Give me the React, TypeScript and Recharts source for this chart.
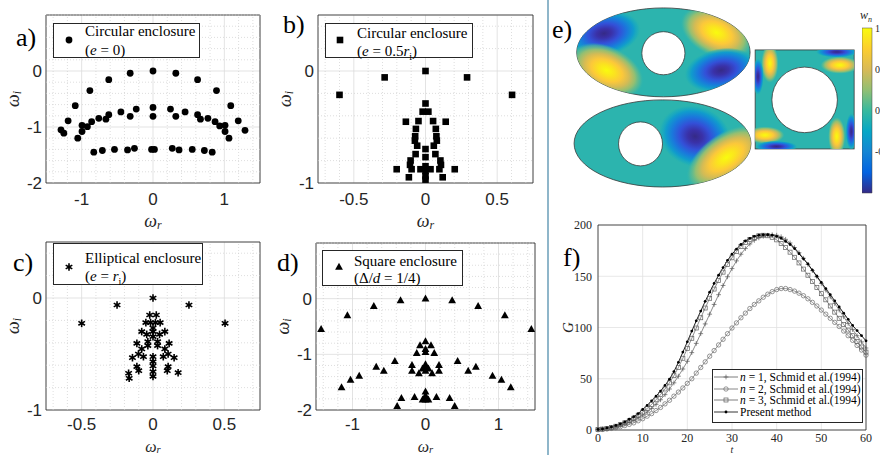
import React from "react";
import {
  ScatterChart,
  Scatter,
  LineChart,
  Line,
  BarChart,
  Bar,
  XAxis,
  YAxis,
  CartesianGrid,
  ReferenceLine,
  ReferenceArea,
  Label,
} from "recharts";

const INK = "#262626";
const SANS = "'Liberation Sans', Arial, sans-serif";
const SERIF = "'Liberation Serif', 'Times New Roman', serif";

// a) circular enclosure, e = 0  -> [omega_r, omega_i]
const circularE0 = [
  [0, 0], [-0.32, -0.04], [0.32, -0.04], [-0.62, -0.155], [0.625, -0.155],
  [-0.885, -0.35], [0.89, -0.35], [-1.09, -0.62], [1.09, -0.62], [-1.19, -0.89],
  [1.195, -0.89], [-1.29, -1.05], [-1.25, -1.11], [1.29, -1.06],
  [0, -0.65], [0, -0.81], [-0.235, -0.68], [0.245, -0.68], [-0.32, -0.81], [0.32, -0.81],
  [-0.45, -0.73], [0.45, -0.73], [-0.62, -0.78], [0.625, -0.78], [-0.66, -0.86], [0.665, -0.86],
  [-0.76, -0.845], [0.77, -0.845], [-0.86, -0.905], [0.87, -0.905], [-0.995, -0.97], [-0.92, -0.995],
  [0.935, -0.98], [1.01, -0.97], [-0.995, -1.08], [1.01, -1.08], [-1.055, -1.2], [1.065, -1.2],
  [-0.83, -1.45], [-0.71, -1.42], [-0.54, -1.4], [-0.357, -1.41], [-0.26, -1.38], [-0.02, -1.4],
  [0.02, -1.4], [0.27, -1.38], [0.365, -1.41], [0.55, -1.4], [0.72, -1.42], [0.83, -1.45],
];

// b) circular enclosure, e = 0.5 r_i
const circularE05 = [
  [0, 0], [-0.285, -0.057], [0.29, -0.057], [-0.6, -0.213], [0.604, -0.213],
  [0, -0.29], [-0.02, -0.363], [0.02, -0.363], [-0.137, -0.453], [0.141, -0.453],
  [-0.049, -0.447], [0.053, -0.447], [-0.067, -0.517], [0.072, -0.517], [-0.072, -0.583],
  [0.076, -0.583], [-0.074, -0.622], [0.079, -0.622], [-0.058, -0.667], [0.058, -0.667],
  [0, -0.697], [-0.069, -0.742], [0.069, -0.742], [0, -0.769], [-0.104, -0.799], [0.104, -0.799],
  [-0.108, -0.838], [0.108, -0.838], [0, -0.85], [-0.201, -0.877], [0.204, -0.877],
  [-0.097, -0.877], [0.097, -0.877], [-0.035, -0.877], [0.035, -0.877], [0, -0.892],
  [-0.116, -0.949], [0.12, -0.949], [0, -0.94], [0, -0.97],
];

// c) elliptical enclosure, e = r_i
const ellipticalE = [
  [0, 0], [-0.252, -0.0625], [0.252, -0.0625], [-0.5, -0.226], [0.505, -0.226],
  [-0.023, -0.152], [0.023, -0.152], [-0.05, -0.22], [-0.017, -0.22], [0.017, -0.22], [0.05, -0.22],
  [-0.079, -0.3], [0.083, -0.3], [-0.044, -0.325], [0.046, -0.325], [0, -0.268], [0, -0.3], [0, -0.345],
  [-0.113, -0.405], [0.113, -0.405], [-0.036, -0.39], [-0.036, -0.425], [0.032, -0.39], [0.032, -0.425],
  [-0.079, -0.455], [0.083, -0.455], [-0.102, -0.5], [-0.067, -0.524], [0.106, -0.5], [0.072, -0.524],
  [-0.144, -0.533], [0.148, -0.533], [0, -0.524], [0, -0.568], [0, -0.607], [0, -0.658], [0, -0.7],
  [-0.113, -0.613], [-0.1, -0.649], [0.106, -0.613], [0.1, -0.649],
  [-0.171, -0.672], [-0.167, -0.717], [0.176, -0.667],
];

// d) square enclosure, Delta/d = 1/4
const squareEncl = [
  [0, 0], [-0.342, -0.03], [0.365, -0.03], [-0.708, -0.137], [0.721, -0.137],
  [-1.07, -0.3], [1.087, -0.3], [-1.43, -0.55], [1.45, -0.55],
  [0, -0.77], [-0.075, -0.84], [0.075, -0.84], [0, -0.91], [0, -0.96], [-0.12, -0.98], [0.12, -0.98],
  [-0.42, -1.125], [0.44, -1.125], [-0.675, -1.226], [0.69, -1.226], [-0.571, -1.298], [0.585, -1.298],
  [-0.185, -1.196], [0.185, -1.196], [-0.185, -1.298], [0.185, -1.298], [-0.09, -1.345], [0.09, -1.345],
  [0, -1.18], [0, -1.24], [0, -1.3], [-0.04, -1.26], [0.04, -1.26],
  [-0.908, -1.387], [0.918, -1.387], [-1.027, -1.46], [1.04, -1.46], [-1.15, -1.595], [1.168, -1.595],
  [0, -1.67], [0, -1.745], [0, -1.815], [-0.15, -1.77], [0.15, -1.77], [-0.33, -1.79], [0.33, -1.79],
  [-0.388, -1.93], [0.4, -1.93], [-0.04, -1.815], [0.04, -1.815],
];

// f) transient growth G(t)
const tSteps = [
  0, 1, 2, 3, 4, 5, 6, 7, 8, 9, 10, 11, 12, 13, 14, 15, 16, 17, 18, 19, 20,
  21, 22, 23, 24, 25, 26, 27, 28, 29, 30, 31, 32, 33, 34, 35, 36, 37, 38, 39, 40,
  41, 42, 43, 44, 45, 46, 47, 48, 49, 50, 51, 52, 53, 54, 55, 56, 57, 58, 59, 60,
];
const n1Gain = [
  0.5, 0.8, 1.4, 2.2, 3.2, 4.4, 5.8, 7.5, 9.5, 12, 14.5, 17.5, 21, 25, 29.5, 34.5, 40, 46, 52.5, 59.5, 67,
  75.5, 84.5, 94, 103.5, 113, 122.5, 132, 141, 149.5, 157.5, 165, 171.5, 177, 181.5, 185, 187.5, 189, 190, 190.5, 190,
  188.5, 186, 182.5, 178, 173, 167.5, 161.5, 155.5, 149.5, 143, 136.5, 130, 123.5, 117, 110.5, 104, 98, 92, 86, 80,
];
const n2Gain = [
  0.3, 0.6, 1, 1.6, 2.3, 3.2, 4.3, 5.5, 7, 9, 11, 13.5, 16, 19, 22, 25.5, 29, 33, 37, 41, 45.5,
  50, 55.5, 61, 66.5, 72, 77.5, 83, 88.5, 94, 99.5, 104.5, 109.5, 114, 118.5, 122.5, 126, 129.5, 132.5, 135, 137,
  138, 138, 137, 135.5, 133.5, 131, 128, 124.5, 121, 117, 113, 109, 105, 101, 96.5, 92, 87.5, 82.5, 78, 73,
];
const n3Gain = [
  0.5, 0.9, 1.6, 2.5, 3.7, 5.2, 7, 9, 11.5, 14.5, 17.5, 21, 25, 29.5, 34.5, 40, 46, 53, 61, 70, 79.5,
  89.5, 99.5, 109.5, 119, 128.5, 137.5, 146, 154, 161.5, 168, 174, 179, 183, 186, 188, 189.5, 190, 189.5, 188, 185.5,
  182, 178, 173.5, 168.5, 163, 157, 151, 145, 139, 133, 127, 121, 115, 109, 103, 97.5, 92, 86.5, 81, 76,
];
const presentGain = [
  0.5, 1, 2, 3, 4.5, 6, 8, 10.5, 13, 16, 20, 24, 28.5, 33, 38, 43.5, 49.5, 57, 66, 76, 86,
  96.5, 106.5, 116, 125.5, 134.5, 143, 151, 158.5, 165.5, 171.5, 176.5, 181, 184.5, 187, 189, 190, 190.5, 190.5, 190, 189,
  187, 184, 181, 177, 172, 167, 162, 156, 150, 144, 138, 132, 126, 120, 114, 108, 102, 97, 92, 87,
];

// e) mode shapes, units = ellipse semi-minor axis
const eDomains = [
  { id: "e1", kind: "ellipse", x: 2.35, y: 1.19, a: 1.97, b: 1.01 },
  { id: "e2", kind: "ellipse", x: 2.33, y: 3.26, a: 2.01, b: 0.99 },
  { id: "sq", kind: "square", x: 5.56, y: 2.26, a: 1.125, b: 1.125 },
];
const eLobes = [
  { host: "e1", x: 1.0, y: 0.76, rx: 0.85, ry: 0.52, rot: -10, sign: -1 },
  { host: "e1", x: 3.56, y: 0.74, rx: 0.88, ry: 0.55, rot: 25, sign: 1 },
  { host: "e1", x: 1.06, y: 1.6, rx: 0.9, ry: 0.55, rot: 25, sign: 1 },
  { host: "e1", x: 3.66, y: 1.6, rx: 0.85, ry: 0.5, rot: -10, sign: -1 },
  { host: "e2", x: 3.07, y: 3.1, rx: 0.85, ry: 0.7, rot: 20, sign: -1 },
  { host: "e2", x: 3.78, y: 3.58, rx: 1.05, ry: 0.55, rot: -35, sign: 1 },
  { host: "sq", x: 4.77, y: 1.44, rx: 0.2, ry: 0.45, rot: 0, sign: 1 },
  { host: "sq", x: 4.5, y: 1.74, rx: 0.13, ry: 0.42, rot: 0, sign: -1 },
  { host: "sq", x: 6.29, y: 1.18, rx: 0.48, ry: 0.13, rot: 0, sign: -1 },
  { host: "sq", x: 6.36, y: 1.48, rx: 0.45, ry: 0.2, rot: 0, sign: 1 },
  { host: "sq", x: 4.66, y: 3.07, rx: 0.45, ry: 0.2, rot: 0, sign: 1 },
  { host: "sq", x: 4.92, y: 3.33, rx: 0.48, ry: 0.13, rot: 0, sign: -1 },
  { host: "sq", x: 6.29, y: 3.1, rx: 0.2, ry: 0.45, rot: 0, sign: 1 },
  { host: "sq", x: 6.62, y: 2.99, rx: 0.13, ry: 0.42, rot: 0, sign: -1 },
];
const eHoles = [
  { x: 2.35, y: 1.21, r: 0.49 },
  { x: 1.83, y: 3.27, r: 0.5 },
  { x: 5.56, y: 2.27, r: 0.745 },
];
const colorbarTicks = [-1, -0.5, 0, 0.5, 1];
const parula = ["#f9fb0e", "#fcce2e", "#d9ba56", "#92bf73", "#38b99e", "#06a7c6", "#1485d4", "#0363e1", "#352a87"];
const E_BG = "#2cb4ae";

const minorSteps = (lo: number, hi: number, step: number, skip: number[]) => {
  const out: number[] = [];
  for (let k = Math.ceil(lo / step - 1e-9); k * step <= hi + 1e-9; k++) {
    const v = Math.round(k * step * 1000) / 1000;
    if (!skip.includes(v)) out.push(v);
  }
  return out;
};

// markers
const Dot = ({ cx, cy }: any) => <circle cx={cx} cy={cy} r={3.4} fill="#000" />;
const Sq = ({ cx, cy }: any) => <rect x={cx - 3.3} y={cy - 3.3} width={6.6} height={6.6} fill="#000" />;
const Star = ({ cx, cy }: any) => (
  <g stroke="#000" strokeWidth={1.6}>
    <line x1={cx} y1={cy - 3.8} x2={cx} y2={cy + 3.8} />
    <line x1={cx - 3.3} y1={cy - 1.9} x2={cx + 3.3} y2={cy + 1.9} />
    <line x1={cx - 3.3} y1={cy + 1.9} x2={cx + 3.3} y2={cy - 1.9} />
    <circle cx={cx} cy={cy} r={1.6} fill="#000" stroke="none" />
  </g>
);
const Tri = ({ cx, cy }: any) => (
  <polygon points={`${cx},${cy - 4.2} ${cx - 3.9},${cy + 2.8} ${cx + 3.9},${cy + 2.8}`} fill="#000" />
);

const OmegaText = ({ x, y, sub, rotate, size = 18 }: any) => (
  <text
    x={x}
    y={y}
    textAnchor="middle"
    dominantBaseline="central"
    fontFamily={SERIF}
    fontStyle="italic"
    fontSize={size}
    fill={INK}
    transform={rotate ? `rotate(-90 ${x} ${y})` : undefined}
  >
    ω<tspan fontSize={size * 0.66} dy={size * 0.2}>{sub}</tspan>
  </text>
);

const YW = 46;
const TM = 15;
const RM = 10;
const XH = 50;

type Spec = {
  box: { x: number; y: number; w: number; h: number };
  xDomain: [number, number];
  yDomain: [number, number];
  xTicks: number[];
  yTicks: number[];
  xStep: number;
  yStep: number;
  xTickGap: number;
  xLabelDy: number;
  xLabelSize: number;
  points: number[][];
  Marker: any;
  legend: { x: number; y: number; w: number; h: number; mx: number; my: number; tx: number; l1: number; l2: number };
  line1: string;
  line2: React.ReactNode;
};

const panels: Spec[] = [
  {
    box: { x: 46, y: 15, w: 214, h: 168 },
    xDomain: [-1.5, 1.5], yDomain: [-2, 1], xTicks: [-1, 0, 1], yTicks: [-2, -1, 0], xStep: 0.2, yStep: 0.2,
    xTickGap: 10, xLabelDy: 38, xLabelSize: 18,
    points: circularE0, Marker: Dot,
    legend: { x: 53, y: 23, w: 147, h: 35, mx: 69, my: 40, tx: 85, l1: 30, l2: 49 },
    line1: "Circular enclosure",
    line2: <>(<i>e</i> = 0)</>,
  },
  {
    box: { x: 318, y: 15, w: 215, h: 168 },
    xDomain: [-0.75, 0.75], yDomain: [-1, 0.5], xTicks: [-0.5, 0, 0.5], yTicks: [-1, 0], xStep: 0.1, yStep: 0.2,
    xTickGap: 10, xLabelDy: 38, xLabelSize: 18,
    points: circularE05, Marker: Sq,
    legend: { x: 325, y: 23, w: 148, h: 35, mx: 340, my: 40, tx: 357, l1: 32, l2: 50 },
    line1: "Circular enclosure",
    line2: <>(<i>e</i> = 0.5<i>r</i><sub style={{ fontSize: 10 }}>i</sub>)</>,
  },
  {
    box: { x: 46, y: 242, w: 214, h: 168 },
    xDomain: [-0.75, 0.75], yDomain: [-1, 0.5], xTicks: [-0.5, 0, 0.5], yTicks: [-1, 0], xStep: 0.1, yStep: 0.2,
    xTickGap: 8, xLabelDy: 36, xLabelSize: 16,
    points: ellipticalE, Marker: Star,
    legend: { x: 53, y: 243, w: 150, h: 42, mx: 69, my: 267, tx: 85, l1: 257, l2: 275 },
    line1: "Elliptical enclosure",
    line2: <>(<i>e</i> = <i>r</i><sub style={{ fontSize: 10 }}>i</sub>)</>,
  },
  {
    box: { x: 316, y: 243, w: 219, h: 167 },
    xDomain: [-1.5, 1.5], yDomain: [-2, 1], xTicks: [-1, 0, 1], yTicks: [-2, -1, 0], xStep: 0.2, yStep: 0.2,
    xTickGap: 8, xLabelDy: 36, xLabelSize: 16,
    points: squareEncl, Marker: Tri,
    legend: { x: 322, y: 250, w: 141, h: 36, mx: 339, my: 267, tx: 354, l1: 260, l2: 277 },
    line1: "Square enclosure",
    line2: <>(Δ/<i>d</i> = 1/4)</>,
  },
];

function EigenPanel({ spec }: { spec: Spec }) {
  const { box, xDomain, yDomain, xTicks, yTicks, Marker, legend } = spec;
  const data = spec.points.map(([x, y]) => ({ x, y }));
  const xMinor = minorSteps(xDomain[0], xDomain[1], spec.xStep, xTicks);
  const yMinor = minorSteps(yDomain[0], yDomain[1], spec.yStep, yTicks);
  const tick = { fill: INK, fontSize: 17, fontFamily: SANS };
  return (
    <>
      <div style={{ position: "absolute", left: box.x - YW, top: box.y - TM }}>
        <ScatterChart
          width={YW + box.w + RM}
          height={TM + box.h + XH}
          margin={{ top: TM, right: RM, bottom: 0, left: 0 }}
        >
          <CartesianGrid stroke="#dcdcdc" strokeWidth={0.8} />
          {xMinor.map((v) => (
            <ReferenceLine key={`mx${v}`} x={v} stroke="#d0d0d0" strokeWidth={0.7} strokeDasharray="1 2" />
          ))}
          {yMinor.map((v) => (
            <ReferenceLine key={`my${v}`} y={v} stroke="#d0d0d0" strokeWidth={0.7} strokeDasharray="1 2" />
          ))}
          <XAxis
            type="number"
            dataKey="x"
            domain={xDomain}
            ticks={xTicks}
            allowDataOverflow
            height={XH}
            tickSize={0}
            tickMargin={spec.xTickGap}
            axisLine={false}
            tick={tick}
          >
            <Label
              content={(lp: any) => (
                <OmegaText
                  x={lp.viewBox.x + lp.viewBox.width / 2}
                  y={lp.viewBox.y + spec.xLabelDy}
                  sub="r"
                  size={spec.xLabelSize}
                />
              )}
            />
          </XAxis>
          <YAxis
            type="number"
            dataKey="y"
            domain={yDomain}
            ticks={yTicks}
            allowDataOverflow
            width={YW}
            tickSize={0}
            tickMargin={4}
            axisLine={false}
            tick={tick}
          >
            <Label
              content={(lp: any) => (
                <OmegaText x={lp.viewBox.x + 13} y={lp.viewBox.y + lp.viewBox.height / 2} sub="i" rotate />
              )}
            />
          </YAxis>
          <ReferenceArea
            x1={xDomain[0]}
            x2={xDomain[1]}
            y1={yDomain[0]}
            y2={yDomain[1]}
            fill="none"
            fillOpacity={0}
            stroke={INK}
            strokeWidth={0.8}
          />
          <Scatter data={data} isAnimationActive={false} shape={(p: any) => <Marker cx={p.cx} cy={p.cy} />} />
        </ScatterChart>
      </div>
      <div
        style={{
          position: "absolute",
          left: legend.x,
          top: legend.y,
          width: legend.w,
          height: legend.h,
          boxSizing: "border-box",
          border: `1px solid ${INK}`,
          background: "#fff",
        }}
      >
        <svg width={legend.w} height={legend.h} style={{ position: "absolute", left: -1, top: -1 }}>
          <Marker cx={legend.mx - legend.x} cy={legend.my - legend.y} />
        </svg>
        {[spec.line1, spec.line2].map((t, i) => (
          <div
            key={i}
            style={{
              position: "absolute",
              left: legend.tx - legend.x - 1,
              top: (i === 0 ? legend.l1 : legend.l2) - legend.y - 10,
              height: 20,
              lineHeight: "20px",
              fontFamily: SERIF,
              fontSize: 15,
              color: "#000",
              whiteSpace: "nowrap",
            }}
          >
            {t}
          </div>
        ))}
      </div>
    </>
  );
}

// ---------- e) mode shapes ----------
const U = 44;
const E_W = 300;
const E_H = 200;

const DomainShape = (p: any) => {
  const d = p.payload;
  const { cx, cy } = p;
  const rx = d.a * U;
  const ry = d.b * U;
  const outline =
    d.kind === "ellipse" ? (
      <ellipse cx={cx} cy={cy} rx={rx} ry={ry} />
    ) : (
      <rect x={cx - rx} y={cy - ry} width={2 * rx} height={2 * ry} />
    );
  return (
    <g>
      <defs>
        <clipPath id={`clip-${d.id}`}>{outline}</clipPath>
      </defs>
      {React.cloneElement(outline, { fill: E_BG, stroke: "#3a3a3a", strokeWidth: 0.8 })}
    </g>
  );
};

const LobeShape = (p: any) => {
  const d = p.payload;
  const { cx, cy } = p;
  return (
    <g clipPath={`url(#clip-${d.host})`}>
      <ellipse
        cx={cx}
        cy={cy}
        rx={d.rx * U}
        ry={d.ry * U}
        transform={`rotate(${d.rot} ${cx} ${cy})`}
        fill={d.sign > 0 ? "url(#lobePos)" : "url(#lobeNeg)"}
      />
    </g>
  );
};

const HoleShape = (p: any) => (
  <circle cx={p.cx} cy={p.cy} r={p.payload.r * U} fill="#fff" stroke="#3a3a3a" strokeWidth={0.8} />
);

function ModeShapes() {
  return (
    <div style={{ position: "absolute", left: 560, top: 0 }}>
      <ScatterChart width={E_W} height={E_H} margin={{ top: 0, right: 0, bottom: 0, left: 0 }}>
        <defs>
          <radialGradient id="lobePos">
            <stop offset="0" stopColor="#f9fb0e" />
            <stop offset="0.22" stopColor="#fbe31f" />
            <stop offset="0.42" stopColor="#fcc83a" />
            <stop offset="0.6" stopColor="#d4bb55" />
            <stop offset="0.76" stopColor="#93bf72" />
            <stop offset="0.9" stopColor="#55ba95" stopOpacity={0.7} />
            <stop offset="1" stopColor={E_BG} stopOpacity={0} />
          </radialGradient>
          <radialGradient id="lobeNeg">
            <stop offset="0" stopColor="#352a87" />
            <stop offset="0.2" stopColor="#3a31a8" />
            <stop offset="0.42" stopColor="#3350d8" />
            <stop offset="0.62" stopColor="#1a78dc" />
            <stop offset="0.8" stopColor="#109ccc" />
            <stop offset="0.92" stopColor="#1aacbc" stopOpacity={0.6} />
            <stop offset="1" stopColor={E_BG} stopOpacity={0} />
          </radialGradient>
        </defs>
        <XAxis type="number" dataKey="x" domain={[0, E_W / U]} hide allowDataOverflow />
        <YAxis type="number" dataKey="y" domain={[0, E_H / U]} hide reversed allowDataOverflow />
        <Scatter data={eDomains} isAnimationActive={false} shape={DomainShape} />
        <Scatter data={eLobes} isAnimationActive={false} shape={LobeShape} />
        <Scatter data={eHoles} isAnimationActive={false} shape={HoleShape} />
      </ScatterChart>
    </div>
  );
}

function Colorbar() {
  const data = [{ k: "w", v: [-1, 1] }];
  return (
    <div style={{ position: "absolute", left: 862, top: 23 }}>
      <BarChart width={40} height={175} data={data} margin={{ top: 5, right: 0, bottom: 5, left: 0 }} barCategoryGap={0}>
        <defs>
          <linearGradient id="parulaV" x1="0" y1="0" x2="0" y2="1">
            {parula.map((c, i) => (
              <stop key={c} offset={i / (parula.length - 1)} stopColor={c} />
            ))}
          </linearGradient>
        </defs>
        <XAxis dataKey="k" hide />
        <YAxis
          orientation="right"
          domain={[-1, 1]}
          ticks={colorbarTicks}
          width={30}
          tickSize={0}
          tickMargin={3}
          axisLine={false}
          tick={{ fill: INK, fontSize: 10, fontFamily: SERIF }}
        />
        <Bar dataKey="v" fill="url(#parulaV)" stroke="#444" strokeWidth={0.5} isAnimationActive={false} />
      </BarChart>
    </div>
  );
}

// ---------- f) transient growth ----------
const PlusDot = (p: any) => (
  <path
    key={`p${p.index}`}
    d={`M${p.cx - 2.4},${p.cy}h4.8M${p.cx},${p.cy - 2.4}v4.8`}
    stroke="#5a5a5a"
    strokeWidth={0.7}
    fill="none"
  />
);
const RingDot = (p: any) => (
  <circle key={`c${p.index}`} cx={p.cx} cy={p.cy} r={2.2} fill="none" stroke="#6a6a6a" strokeWidth={0.7} />
);
const BoxDot = (p: any) => (
  <rect key={`s${p.index}`} x={p.cx - 2} y={p.cy - 2} width={4} height={4} fill="none" stroke="#5e5e5e" strokeWidth={0.7} />
);
const SolidDot = (p: any) => <circle key={`d${p.index}`} cx={p.cx} cy={p.cy} r={1.4} fill="#000" />;

const gainRows = tSteps.map((t, i) => ({
  t,
  n1: n1Gain[i],
  n2: n2Gain[i],
  n3: n3Gain[i],
  present: presentGain[i],
}));

const fLegend = [
  { key: "n1", Mark: PlusDot, color: "#5a5a5a", label: <><i>n</i> = 1, Schmid et al.(1994)</> },
  { key: "n2", Mark: RingDot, color: "#6a6a6a", label: <><i>n</i> = 2, Schmid et al.(1994)</> },
  { key: "n3", Mark: BoxDot, color: "#5e5e5e", label: <><i>n</i> = 3, Schmid et al.(1994)</> },
  { key: "present", Mark: SolidDot, color: "#000", label: <>Present method</> },
];

function GrowthPanel() {
  const tick = { fill: INK, fontSize: 12, fontFamily: SERIF };
  return (
    <>
      <div style={{ position: "absolute", left: 560, top: 215 }}>
        <LineChart width={320} height={240} data={gainRows} margin={{ top: 10, right: 14, bottom: 0, left: 0 }}>
          <CartesianGrid stroke="#e2e2e2" strokeWidth={0.8} />
          <XAxis
            type="number"
            dataKey="t"
            domain={[0, 60]}
            ticks={[0, 10, 20, 30, 40, 50, 60]}
            height={25}
            tickSize={0}
            tickMargin={3}
            axisLine={false}
            tick={tick}
          >
            <Label
              content={(lp: any) => (
                <text
                  x={lp.viewBox.x + lp.viewBox.width / 2}
                  y={lp.viewBox.y + 23}
                  textAnchor="middle"
                  fontFamily={SERIF}
                  fontStyle="italic"
                  fontSize={10}
                  fill={INK}
                >
                  t
                </text>
              )}
            />
          </XAxis>
          <YAxis
            type="number"
            domain={[0, 200]}
            ticks={[0, 50, 100, 150, 200]}
            width={38}
            tickSize={0}
            tickMargin={6}
            axisLine={false}
            tick={tick}
          >
            <Label
              content={(lp: any) => {
                const x = lp.viewBox.x + 8;
                const y = lp.viewBox.y + lp.viewBox.height / 2;
                return (
                  <text
                    x={x}
                    y={y}
                    textAnchor="middle"
                    dominantBaseline="central"
                    fontFamily={SERIF}
                    fontStyle="italic"
                    fontSize={15}
                    fill={INK}
                    transform={`rotate(-90 ${x} ${y})`}
                  >
                    G
                  </text>
                );
              }}
            />
          </YAxis>
          <ReferenceArea x1={0} x2={60} y1={0} y2={200} fill="none" fillOpacity={0} stroke={INK} strokeWidth={0.8} />
          <Line dataKey="n2" stroke="#6a6a6a" strokeWidth={0.7} dot={RingDot} isAnimationActive={false} />
          <Line dataKey="n3" stroke="#5e5e5e" strokeWidth={0.7} dot={BoxDot} isAnimationActive={false} />
          <Line dataKey="n1" stroke="#5a5a5a" strokeWidth={0.7} dot={PlusDot} isAnimationActive={false} />
          <Line dataKey="present" stroke="#000" strokeWidth={0.9} dot={SolidDot} isAnimationActive={false} />
        </LineChart>
      </div>
      <div
        style={{
          position: "absolute",
          left: 712,
          top: 369,
          width: 151,
          height: 54,
          boxSizing: "border-box",
          border: `1px solid ${INK}`,
          background: "#fff",
        }}
      >
        {fLegend.map((row, i) => (
          <div
            key={row.key}
            style={{
              position: "absolute",
              left: 0,
              top: 1 + i * 11.5,
              height: 12,
              lineHeight: "12px",
              fontFamily: SERIF,
              fontSize: 11.5,
              color: "#000",
              whiteSpace: "nowrap",
            }}
          >
            <svg width={26} height={12} style={{ position: "absolute", left: 0, top: 0 }}>
              <line x1={1} y1={6} x2={25} y2={6} stroke={row.color} strokeWidth={0.8} />
              <row.Mark cx={13} cy={6} index={0} />
            </svg>
            <span style={{ position: "absolute", left: 27, top: 0 }}>{row.label}</span>
          </div>
        ))}
      </div>
    </>
  );
}

const panelTag = (txt: string, left: number, top: number) => (
  <div
    key={txt}
    style={{
      position: "absolute",
      left,
      top,
      fontFamily: SERIF,
      fontSize: 26,
      lineHeight: "30px",
      color: "#000",
    }}
  >
    {txt}
  </div>
);

export default function App() {
  return (
    <div
      style={{
        position: "absolute",
        left: 0,
        top: 0,
        width: 880,
        height: 455,
        overflow: "hidden",
        background: "#fff",
      }}
    >
      {panels.map((s, i) => (
        <EigenPanel key={i} spec={s} />
      ))}
      <div style={{ position: "absolute", left: 547, top: 0, width: 2, height: 455, background: "#8fb6ca" }} />
      <ModeShapes />
      <Colorbar />
      <div
        style={{
          position: "absolute",
          left: 860,
          top: 8,
          fontFamily: SERIF,
          fontStyle: "italic",
          fontSize: 12,
          color: INK,
        }}
      >
        w<sub style={{ fontSize: 8 }}>n</sub>
      </div>
      <GrowthPanel />
      {panelTag("a)", 16, 23)}
      {panelTag("b)", 283, 10)}
      {panelTag("c)", 13, 248)}
      {panelTag("d)", 277, 248)}
      {panelTag("e)", 552, 15)}
      {panelTag("f)", 563, 243)}
    </div>
  );
}
